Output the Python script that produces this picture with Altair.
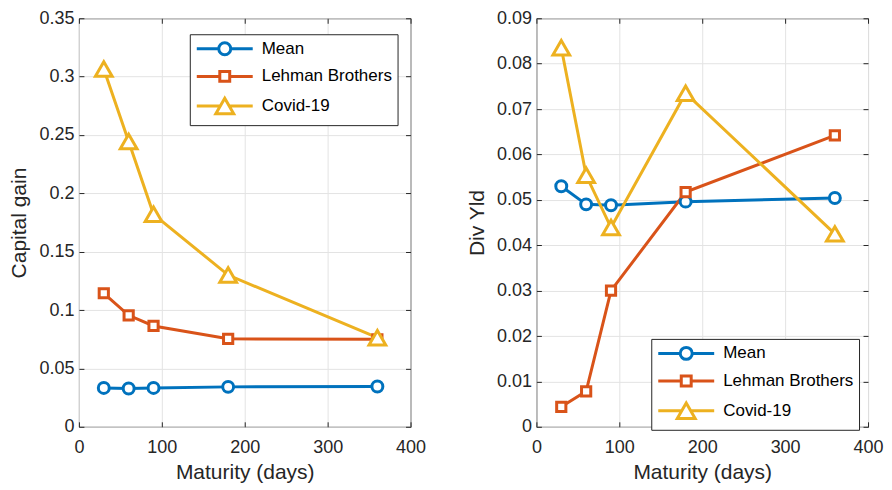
import altair as alt
import pandas as pd

# ---------------- data ----------------
maturity = [30, 60, 90, 180, 360]
series_names = ["Mean", "Lehman Brothers", "Covid-19"]

cap_mean = [0.0333, 0.0328, 0.0333, 0.0342, 0.0345]
cap_lehman = [0.1144, 0.0955, 0.0864, 0.0754, 0.0749]
cap_covid = [0.3065, 0.2445, 0.1820, 0.1300, 0.0763]

div_mean = [0.0530, 0.0490, 0.0488, 0.0496, 0.0504]
div_lehman = [0.0044, 0.0078, 0.0300, 0.0517, 0.0642]
div_covid = [0.0835, 0.0554, 0.0439, 0.0735, 0.0425]

x_ticks = [0, 100, 200, 300, 400]
cap_ticks = [0, 0.05, 0.1, 0.15, 0.2, 0.25, 0.3, 0.35]
div_ticks = [0, 0.01, 0.02, 0.03, 0.04, 0.05, 0.06, 0.07, 0.08, 0.09]

colors = ["#0072BD", "#D95319", "#EDB120"]
plot_shapes = ["circle", "square", "triangle-up"]
plot_sizes = [120, 85, 280]

# legend symbols: a line segment with the marker in the middle
# (symbol size 256 -> 1 unit = 8 px)
legend_paths = [
    "M-3.5,0H-0.75M0.75,0H3.5M0.75,0A0.75,0.75,0,1,1,-0.75,0A0.75,0.75,0,1,1,0.75,0Z",
    "M-3.5,0H-0.62M0.62,0H3.5M-0.62,-0.62H0.62V0.62H-0.62Z",
    "M-3.5,0H-0.56M0.56,0H3.5M0,-0.97L1.12,0.97H-1.12Z",
]

FONT = "Liberation Sans"
INK = "#262626"
TICK = 5
PW, PH = 332, 409
LW = 3.0


def make_df(values):
    rows = []
    for name, vals in zip(series_names, values):
        for i, (m, v) in enumerate(zip(maturity, vals)):
            rows.append({"series": name, "maturity": m, "value": v, "ord": i})
    return pd.DataFrame(rows)


def panel(df, ytitle, ymax, yticks, legend_x, legend_y):
    xscale = alt.Scale(domain=[0, 400], nice=False, zero=False)
    yscale = alt.Scale(domain=[0, ymax], nice=False, zero=False)
    cscale = alt.Scale(domain=series_names, range=colors)
    fmt = "format(datum.value, '~g')"

    x_main = alt.X("maturity:Q", scale=xscale, title="Maturity (days)",
                   axis=alt.Axis(values=x_ticks, labelExpr=fmt, offset=-TICK,
                                 tickSize=TICK, domain=False, grid=True,
                                 labelPadding=12, titlePadding=5))
    y_main = alt.Y("value:Q", scale=yscale, title=ytitle,
                   axis=alt.Axis(values=yticks, labelExpr=fmt, offset=-TICK,
                                 tickSize=TICK, domain=False, grid=True,
                                 labelPadding=5, titlePadding=9))
    x_top = alt.X("maturity:Q", scale=xscale, title=None,
                  axis=alt.Axis(values=x_ticks, orient="top", labels=False,
                                offset=-TICK, tickSize=TICK, domain=False, grid=False))
    y_right = alt.Y("value:Q", scale=yscale, title=None,
                    axis=alt.Axis(values=yticks, orient="right", labels=False,
                                  offset=-TICK, tickSize=TICK, domain=False, grid=False))
    x_none = alt.X("maturity:Q", scale=xscale, axis=None)
    y_none = alt.Y("value:Q", scale=yscale, axis=None)

    base = alt.Chart(df)

    frame = base.mark_line(opacity=0).encode(
        x=x_main, y=y_main, detail="series:N", order="ord:Q",
    )
    frame2 = base.mark_line(opacity=0).encode(
        x=x_top, y=y_right, detail="series:N", order="ord:Q",
    )
    layers = [frame, frame2]
    for name, col in zip(series_names, colors):
        layers.append(
            base.transform_filter(alt.datum.series == name)
            .mark_line(strokeWidth=LW, color=col)
            .encode(x=x_none, y=y_none, order="ord:Q")
        )
    for name, col, shp, sz in zip(series_names, colors, plot_shapes, plot_sizes):
        layers.append(
            base.transform_filter(alt.datum.series == name)
            .mark_point(shape=shp, size=sz, filled=False, fill="white",
                        stroke=col, strokeWidth=LW, opacity=1)
            .encode(x=x_none, y=y_none)
        )
    leg = alt.Legend(orient="none", legendX=legend_x, legendY=legend_y)
    legend_layer = base.mark_point(size=0, opacity=0, filled=False,
                                   strokeWidth=LW).encode(
        x=x_none, y=y_none,
        color=alt.Color("series:N", scale=cscale, title=None, legend=leg),
        shape=alt.Shape("series:N", scale=alt.Scale(domain=series_names,
                                                    range=legend_paths),
                        title=None, legend=leg),
    )
    layers.append(legend_layer)
    return alt.layer(*layers).resolve_axis(x="independent", y="independent") \
        .properties(width=PW, height=PH)


left = panel(make_df([cap_mean, cap_lehman, cap_covid]), "Capital gain",
             0.35, cap_ticks, 111, 16)
right = panel(make_df([div_mean, div_lehman, div_covid]), "Div Yld",
              0.09, div_ticks, 115, 321)

chart = alt.hconcat(left, right, spacing=39).resolve_scale(
    color="independent", shape="independent"
).resolve_legend(
    color="independent", shape="independent"
).properties(
    padding={"left": 0, "top": 0, "right": 0, "bottom": 0}
).configure_view(
    stroke=INK, strokeWidth=1
).configure_axis(
    labelFont=FONT, titleFont=FONT, labelFontSize=18, titleFontSize=21,
    labelColor=INK, titleColor=INK, tickColor=INK, tickWidth=1,
    titleFontWeight="normal", gridColor="#e3e3e3", gridWidth=1,
    labelFlush=False, labelOverlap=False,
).configure_legend(
    labelFont=FONT, labelFontSize=17, labelColor="#000000",
    symbolSize=256, symbolStrokeWidth=LW, symbolOpacity=1,
    symbolFillColor="transparent", symbolOffset=20.5,
    strokeColor=INK, fillColor="white", padding=5, rowPadding=3.7,
    labelOffset=27.5, cornerRadius=0, labelLimit=300,
)

chart.save("out.html", embed_options={"renderer": "svg", "actions": False})
